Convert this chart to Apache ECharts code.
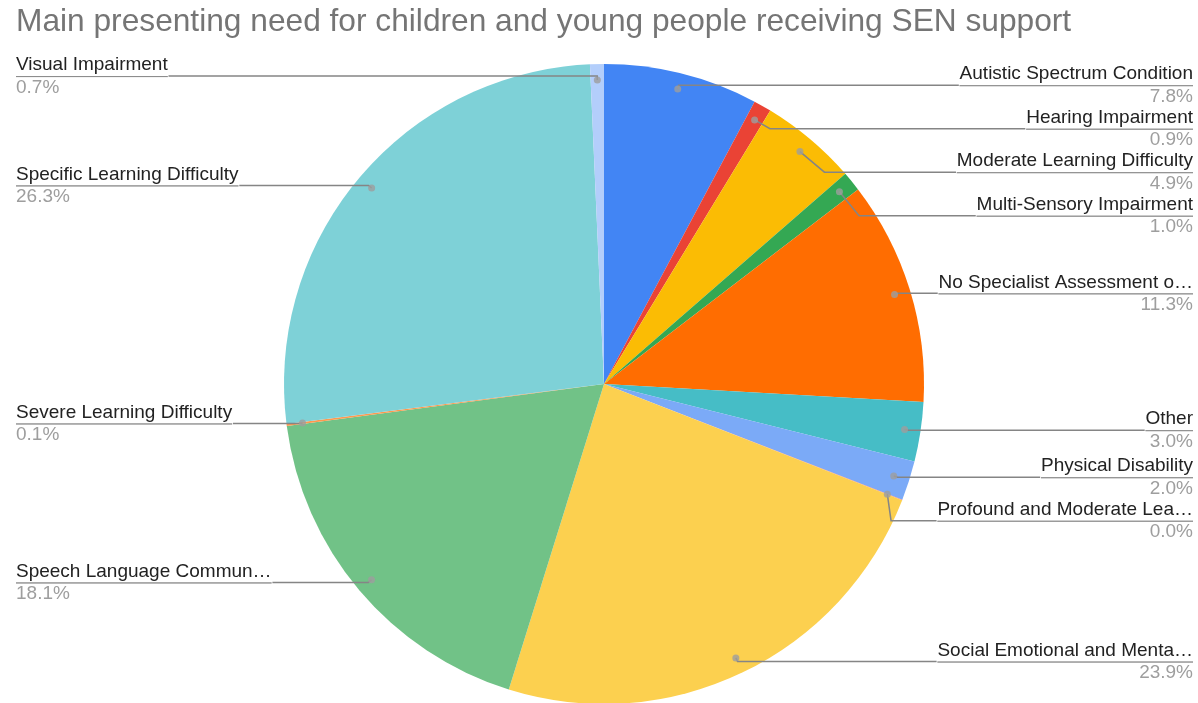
<!DOCTYPE html>
<html>
<head>
<meta charset="utf-8">
<script src="https://cdn.jsdelivr.net/npm/echarts@6/dist/echarts.min.js"></script>
<style>
  html, body { margin: 0; padding: 0; background: #fff; }
  #chart { width: 1198px; height: 703px; }
</style>
</head>
<body>
<div id="chart"></div>
<script>
// categories in the order they go round the pie (clockwise from 12 o'clock)
const needs = [
  "Autistic Spectrum Condition",
  "Hearing Impairment",
  "Moderate Learning Difficulty",
  "Multi-Sensory Impairment",
  "No Specialist Assessment o…",
  "Other",
  "Physical Disability",
  "Profound and Moderate Lea…",
  "Social Emotional and Menta…",
  "Speech Language Commun…",
  "Severe Learning Difficulty",
  "Specific Learning Difficulty",
  "Visual Impairment"
];
// share of pupils, %
const shares = [7.8, 0.9, 4.9, 1.0, 11.3, 3.0, 2.0, 0.02, 23.9, 18.1, 0.1, 26.3, 0.7];
const palette = [
  "#4285F4", "#EA4335", "#FBBC04", "#34A853", "#FF6D01", "#46BDC6", "#7BAAF7",
  "#F07B72", "#FCD04F", "#71C287", "#FF994D", "#7ED1D7", "#B3CEFB"
];

const chart = echarts.init(document.getElementById("chart"));

const pieData = needs.map((n, i) => ({ name: n, value: shares[i], itemStyle: { color: palette[i] } }));

// mid angle of every slice, used for the little dots where leader lines start
let total = shares.reduce((a, b) => a + b, 0);
let acc = 0;
const dotData = shares.map((v) => {
  const mid = acc + v / 2;
  acc += v;
  return [304, mid];
});

const font = "'Liberation Sans', Arial, sans-serif";

const option = {
  animation: false,
  title: {
    text: "Main presenting need for children and young people receiving SEN support",
    left: 16,
    top: 6,
    padding: 0,
    textStyle: { fontSize: 31.7, fontWeight: "normal", color: "#757575", fontFamily: font }
  },
  polar: { center: [604, 384], radius: 320 },
  angleAxis: { type: "value", min: 0, max: total, startAngle: 90, clockwise: true, show: false },
  radiusAxis: { type: "value", min: 0, max: 320, show: false },
  series: [
    {
      // the visible pie
      type: "pie",
      silent: true,
      left: 11,
      right: 0,
      center: [593, 384],
      radius: 320,
      label: { show: false },
      labelLine: { show: false },
      data: pieData
    },
    {
      // transparent copy, slightly smaller, carrying labels so the lines start inside the slices
      type: "pie",
      silent: true,
      z: 3,
      left: 11,
      right: 0,
      center: [593, 384],
      radius: 304,
      itemStyle: { color: "rgba(0,0,0,0)" },
      label: {
        show: true,
        alignTo: "edge",
        edgeDistance: 5,
        distanceToLabelLine: 0,
        formatter: (p) => "{name|" + p.name + "}\n{hr|}\n{pct|" + p.value.toFixed(1) + "%}",
        rich: {
          name: { fontSize: 19, color: "#222222", lineHeight: 22, fontFamily: font },
          hr: { borderColor: "#858585", borderWidth: 0.8, width: "100%", height: 0, lineHeight: 1 },
          pct: { fontSize: 19, color: "#9e9e9e", lineHeight: 21, fontFamily: font }
        }
      },
      labelLine: { show: true, length: 4, length2: 0, lineStyle: { color: "#858585", width: 1.5 } },
      data: needs.map((n, i) => ({ name: n, value: shares[i] }))
    },
    {
      type: "scatter",
      coordinateSystem: "polar",
      silent: true,
      symbolSize: 7,
      itemStyle: { color: "#9e9e9e" },
      z: 5,
      data: dotData
    }
  ]
};

chart.setOption(option);
</script>
</body>
</html>
